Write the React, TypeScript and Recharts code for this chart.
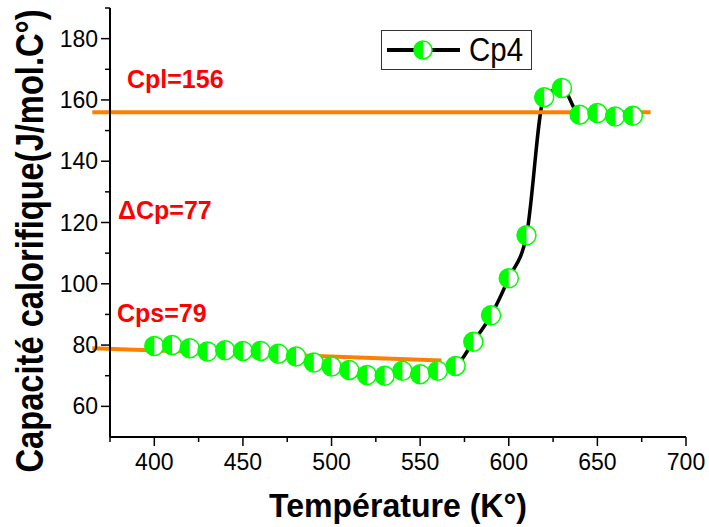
import React from 'react';
import { LineChart, Line, XAxis, YAxis, ReferenceLine, Legend, Customized } from 'recharts';

// temperature (K) and Cp4
const temps = [400, 410, 420, 430, 440, 450, 460, 470, 480, 490, 500, 510, 520, 530, 540, 550, 560, 570, 580, 590, 600, 610, 620, 630, 640, 650, 660, 670];
const cp4 = [79.7, 80.0, 79.0, 77.9, 78.3, 78.1, 78.1, 77.2, 76.3, 74.3, 73.0, 71.9, 70.2, 70.0, 71.6, 70.5, 71.6, 73.2, 81.1, 89.7, 101.8, 115.8, 160.9, 163.9, 155.2, 155.7, 154.6, 154.8];

const xTicks = [375, 400, 425, 450, 475, 500, 525, 550, 575, 600, 625, 650, 675, 700];
const yTicks = [60, 70, 80, 90, 100, 110, 120, 130, 140, 150, 160, 170, 180, 190];

// fitted levels (liquid / solid)
const cplSegment = [{ x: 365, y: 156 }, { x: 680, y: 156 }];
const cpsSegment = [{ x: 365, y: 79 }, { x: 562, y: 75 }];

const notes = [
  { text: 'Cpl=156', x: 127, y: 88 },
  { text: '\u0394Cp=77', x: 118, y: 219 },
  { text: 'Cps=79', x: 117, y: 322 },
];

const data = temps.map((t, i) => ({ t, cp: cp4[i] }));

const FONT = '"Liberation Sans", Arial, sans-serif';
const GREEN = '#00ff00';
const ORANGE = '#ff8000';

const halfCircle = (cx: number, cy: number, r: number) => (
  <g>
    <circle cx={cx} cy={cy} r={r} fill="#fff" stroke={GREEN} strokeWidth={1.5} />
    <path d={`M${cx},${cy - r} A${r},${r} 0 0 0 ${cx},${cy + r} Z`} fill={GREEN} />
  </g>
);

const HalfDot = (props: any) => {
  const { cx, cy, index } = props;
  if (cx == null || cy == null) return <g key={`d${index}`} />;
  return <g key={`d${index}`}>{halfCircle(cx, cy, 9.5)}</g>;
};

const XTick = (props: any) => {
  const { x, y, payload } = props;
  const major = payload.value % 50 === 0;
  return (
    <g>
      <line x1={x} y1={y} x2={x} y2={y + (major ? 9 : 5)} stroke="#000" strokeWidth={1.5} />
      {major && (
        <text x={x} y={y + 33} textAnchor="middle" fontSize={23} fontFamily={FONT} fill="#000">
          {payload.value}
        </text>
      )}
    </g>
  );
};

const YTick = (props: any) => {
  const { x, y, payload } = props;
  const major = payload.value % 20 === 0;
  return (
    <g>
      <line x1={x} y1={y} x2={x - (major ? 9 : 5)} y2={y} stroke="#000" strokeWidth={1.5} />
      {major && (
        <text x={x - 12} y={y + 8} textAnchor="end" fontSize={23} fontFamily={FONT} fill="#000">
          {payload.value}
        </text>
      )}
    </g>
  );
};

const Notes = () => (
  <g>
    {notes.map((n) => (
      <text key={n.text} x={n.x} y={n.y} fontSize={25} fontWeight="bold" fontFamily={FONT} fill="#ff0000">
        {n.text}
      </text>
    ))}
  </g>
);

const LegendBox = () => (
  <svg width={151} height={40} style={{ display: 'block' }}>
    <rect x={0.5} y={0.5} width={150} height={39} fill="#fff" stroke="#333" strokeWidth={1} />
    <line x1={6} y1={20} x2={79} y2={20} stroke="#000" strokeWidth={4} />
    {halfCircle(42, 20, 9)}
    <text x={88} y={31} fontSize={34} fontFamily={FONT} textLength={54} lengthAdjust="spacingAndGlyphs" fill="#000">
      Cp4
    </text>
  </svg>
);

export default function App() {
  return (
    <div style={{ position: 'absolute', left: 0, top: 0, width: 709, height: 527, background: '#fff' }}>
      <LineChart width={709} height={527} data={data} margin={{ top: 8, right: 23, left: 0, bottom: 0 }}>
        <XAxis
          dataKey="t"
          type="number"
          domain={[375, 700]}
          ticks={xTicks}
          interval={0}
          tickSize={0}
          tickMargin={0}
          tickLine={false}
          tick={<XTick />}
          height={90}
          axisLine={{ stroke: '#000', strokeWidth: 2 }}
          label={{
            content: () => (
              <text x={398} y={517} textAnchor="middle" fontSize={33} fontWeight="bold" fontFamily={FONT}
                textLength={258} lengthAdjust="spacingAndGlyphs" fill="#000">
                Température (K°)
              </text>
            ),
          }}
        />
        <YAxis
          type="number"
          domain={[50, 190]}
          ticks={yTicks}
          interval={0}
          tickSize={0}
          tickMargin={0}
          tickLine={false}
          tick={<YTick />}
          width={110}
          axisLine={{ stroke: '#000', strokeWidth: 2 }}
          label={{
            content: () => (
              <text x={43} y={241} transform="rotate(-90, 43, 241)" textAnchor="middle" fontSize={39}
                fontWeight="bold" fontFamily={FONT} textLength={463} lengthAdjust="spacingAndGlyphs" fill="#000">
                Capacité calorifique(J/mol.C°)
              </text>
            ),
          }}
        />
        <Line
          type="monotone"
          dataKey="cp"
          name="Cp4"
          stroke="#000"
          strokeWidth={3.5}
          dot={HalfDot}
          activeDot={false}
          isAnimationActive={false}
        />
        <ReferenceLine segment={cplSegment} stroke={ORANGE} strokeWidth={4} ifOverflow="visible" />
        <ReferenceLine segment={cpsSegment} stroke={ORANGE} strokeWidth={4} ifOverflow="visible" />
        <Customized component={Notes} />
        <Legend
          layout="horizontal"
          verticalAlign="middle"
          align="center"
          wrapperStyle={{ left: 381, top: 30, width: 151, height: 40 }}
          content={() => <LegendBox />}
        />
      </LineChart>
    </div>
  );
}
